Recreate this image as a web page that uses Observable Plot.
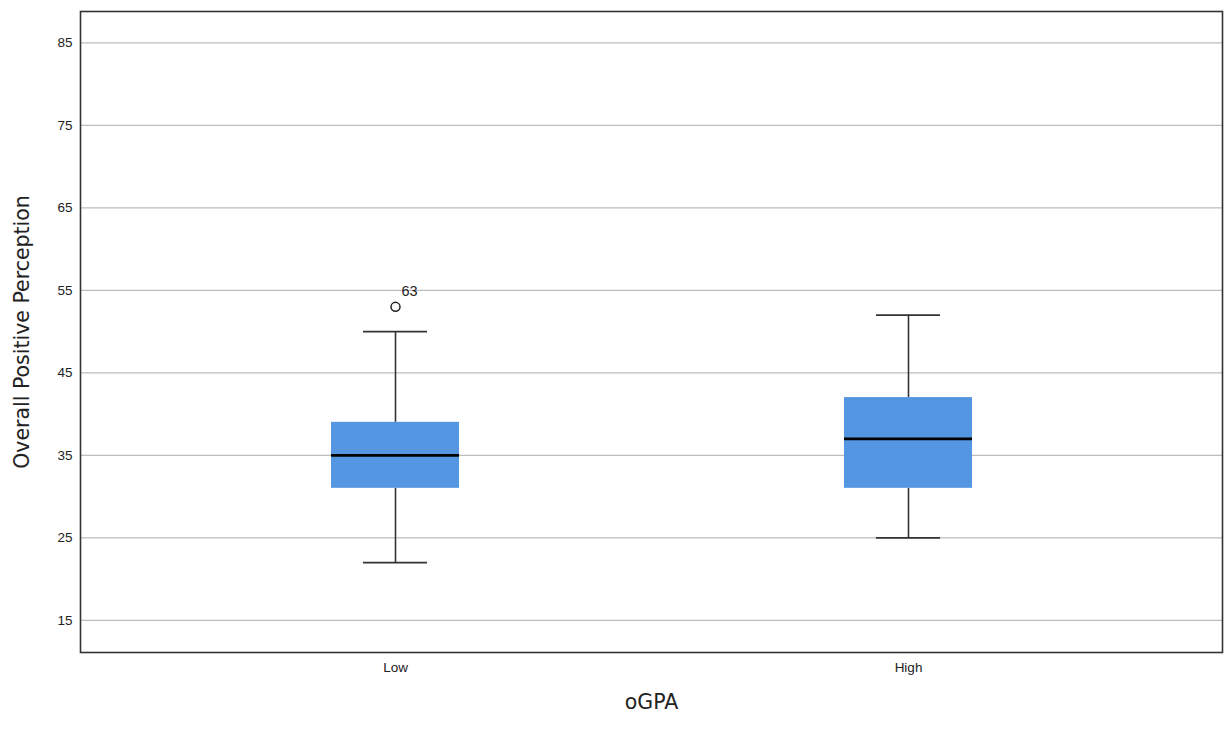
<!DOCTYPE html>
<html>
<head>
<meta charset="utf-8">
<script src="https://cdn.jsdelivr.net/npm/d3@7"></script>
<script src="https://cdn.jsdelivr.net/npm/@observablehq/plot@0.6"></script>
<style>
  html, body { margin: 0; padding: 0; background: #fff; }
</style>
</head>
<body>
<div id="chart"></div>
<script>
const groups = ["Low", "High"];
const whiskerLow = [22, 25];
const q1 = [31, 31];
const median = [35, 37];
const q3 = [39, 42];
const whiskerHigh = [50, 52];
const outlierGroup = ["Low"];
const outlierValue = [53];
const outlierLabel = ["63"];
const yTicks = [15, 25, 35, 45, 55, 65, 75, 85];

const boxes = groups.map((g, i) => ({
  group: g, lo: whiskerLow[i], q1: q1[i], med: median[i], q3: q3[i], hi: whiskerHigh[i]
}));
const outliers = outlierGroup.map((g, i) => ({group: g, value: outlierValue[i], label: outlierLabel[i]}));

const chart = Plot.plot({
  width: 1225,
  height: 730,
  marginLeft: 80,
  marginRight: 3,
  marginTop: 11,
  marginBottom: 78,
  style: {fontFamily: "'Liberation Sans', Arial, sans-serif", fontSize: "13.5px", background: "#fff", color: "#222"},
  x: {type: "band", domain: groups, paddingInner: 0.751, paddingOuter: 0.4865, label: null},
  y: {domain: [11.1, 88.8], label: null},
  marks: [
    Plot.gridY(yTicks, {stroke: "#bdbdbd", strokeOpacity: 1, strokeWidth: 1.3}),
    Plot.axisY(yTicks, {tickSize: 0, tickPadding: 8, label: null}),
    Plot.axisX({tickSize: 0, tickPadding: 10, label: null}),
    Plot.ruleX(boxes, {x: "group", y1: "lo", y2: "q1", stroke: "#333", strokeWidth: 1.6}),
    Plot.ruleX(boxes, {x: "group", y1: "q3", y2: "hi", stroke: "#333", strokeWidth: 1.6}),
    Plot.tickY(boxes, {x: "group", y: "lo", stroke: "#333", strokeWidth: 1.6, insetLeft: 32, insetRight: 32}),
    Plot.tickY(boxes, {x: "group", y: "hi", stroke: "#333", strokeWidth: 1.6, insetLeft: 32, insetRight: 32}),
    Plot.barY(boxes, {x: "group", y1: "q1", y2: "q3", fill: "#5596e3"}),
    Plot.tickY(boxes, {x: "group", y: "med", stroke: "#000", strokeWidth: 2.6}),
    Plot.dot(outliers, {x: "group", y: "value", r: 4.5, stroke: "#222", strokeWidth: 1.5, fill: "#fff"}),
    Plot.text(outliers, {x: "group", y: "value", text: "label", dx: 6, dy: -15, textAnchor: "start", fontSize: 14.5, fill: "#222"}),
    Plot.frame({stroke: "#333", strokeWidth: 1.6}),
    Plot.text(["Overall Positive Perception"], {frameAnchor: "left", textAnchor: "middle", rotate: -90, dx: -58, fontSize: 20.5, fontFamily: "'DejaVu Sans', sans-serif", fill: "#222"}),
    Plot.text(["oGPA"], {frameAnchor: "bottom", textAnchor: "middle", dy: 56, fontSize: 20.5, fontFamily: "'DejaVu Sans', sans-serif", fill: "#222"})
  ]
});
document.getElementById("chart").appendChild(chart);
</script>
</body>
</html>
